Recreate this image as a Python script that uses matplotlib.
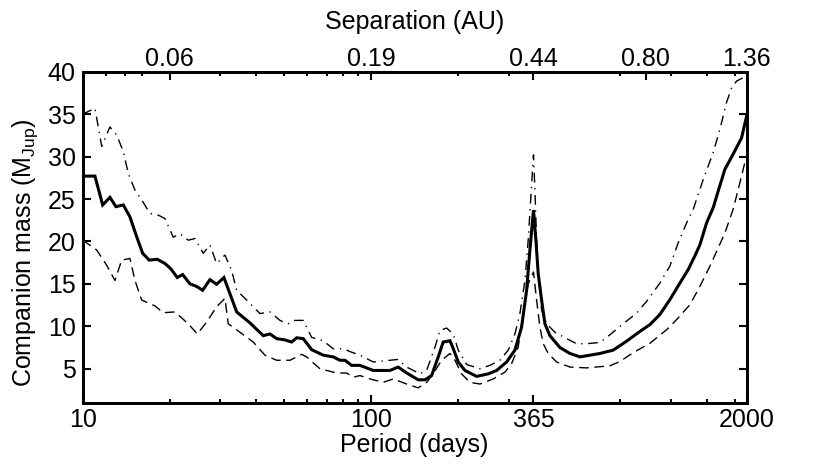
import matplotlib
matplotlib.use("Agg")
import matplotlib.pyplot as plt
from matplotlib.ticker import FixedLocator, NullFormatter, FixedFormatter

plt.rcParams['font.family'] = ['Liberation Sans', 'DejaVu Sans']
plt.rcParams['mathtext.fontset'] = 'custom'
plt.rcParams['mathtext.rm'] = 'Liberation Sans'
plt.rcParams['mathtext.it'] = 'Liberation Sans:italic'

# ---- data ----
solid_period = [10.0, 11.03, 11.73, 12.43, 13.04, 13.83, 14.58, 15.39, 16.14, 17.01, 18.14,
                19.28, 20.18, 21.27, 22.21, 23.54, 24.83, 26.05, 27.61, 29.12, 30.87, 34.17,
                38.0, 42.25, 44.57, 47.01, 50.23, 52.99, 55.14, 58.12, 62.15, 68.19, 73.83,
                77.88, 81.07, 85.51, 91.4, 101.6, 116.1, 124.0, 132.7, 145.5, 153.5, 161.9,
                170.7, 177.6, 187.4, 192.3, 200.2, 211.2, 231.9, 254.3, 272.0, 294.6, 314.7,
                331.9, 345.5, 354.7, 365.0, 372.1, 379.0, 389.4, 399.8, 416.1, 450.7, 488.2,
                528.8, 620.1, 689.8, 767.4, 853.2, 924.2, 1001, 1084, 1174, 1255, 1323, 1377,
                1453, 1532, 1594, 1681, 1796, 1920, 2000]
solid_mass = [27.7, 27.7, 24.3, 25.2, 24.1, 24.3, 22.9, 20.55, 18.6, 17.8, 17.9,
              17.4, 16.8, 15.75, 16.1, 15.0, 14.7, 14.25, 15.5, 14.95, 15.75, 11.7,
              10.4, 8.9, 9.1, 8.55, 8.4, 8.15, 8.65, 8.55, 7.25, 6.6, 6.4,
              6.0, 6.0, 5.4, 5.4, 4.8, 4.8, 5.2, 4.5, 3.7, 3.7, 4.2,
              6.4, 8.15, 8.3, 7.4, 5.8, 4.8, 4.1, 4.4, 4.8, 5.8, 7.2,
              9.9, 14.25, 19.0, 23.7, 20.15, 16.2, 13.1, 10.3, 8.9, 7.5, 6.8,
              6.4, 6.8, 7.2, 8.25, 9.4, 10.2, 11.4, 13.15, 15.1, 16.7, 18.3, 19.6,
              22.2, 24.0, 25.95, 28.5, 30.3, 32.2, 34.8]

upper_period = [10.0, 11.03, 11.64, 12.43, 13.11, 13.83, 14.39, 15.18, 16.01, 17.11, 18.28,
                19.28, 20.60, 21.74, 23.22, 24.50, 26.17, 27.61, 29.12, 31.12, 32.82, 34.17,
                37.01, 41.15, 44.57, 48.26, 51.57, 54.40, 58.12, 62.15, 68.19, 73.83, 79.98,
                85.51, 91.4, 101.6, 116.1, 124.0, 132.7, 147.5, 155.6, 166.3, 173.0, 182.5,
                192.3, 200.2, 214.1, 238.1, 257.8, 279.3, 298.4, 314.7, 327.5, 340.9, 349.9,
                357.5, 365.0, 369.2, 374.2, 381.1, 389.4, 405.3, 433.1, 475.5, 514.9, 557.7,
                620.1, 671.6, 727.6, 831.0, 900.3, 1001, 1084, 1158, 1239, 1306, 1414, 1532,
                1615, 1704, 1774, 1846, 1946, 2000]
upper_mass = [35.0, 35.7, 31.2, 33.5, 32.55, 30.6, 28.0, 26.05, 24.9, 23.3, 23.1,
              22.7, 20.5, 20.9, 20.15, 20.35, 18.6, 19.6, 17.4, 18.4, 16.6, 14.25,
              13.1, 11.5, 11.7, 10.7, 10.3, 10.7, 10.7, 8.7, 8.3, 7.35, 7.35,
              6.95, 6.6, 5.8, 6.0, 6.1, 5.2, 4.4, 4.8, 7.55, 9.5, 9.8,
              9.1, 7.2, 5.5, 5.0, 5.4, 6.0, 7.2, 9.1, 11.5, 15.4, 20.15,
              25.3, 30.2, 26.05, 20.15, 15.4, 11.9, 10.3, 9.3, 8.55, 7.95, 7.95,
              8.1, 9.0, 10.0, 11.55, 12.95, 15.1, 17.1, 19.85, 22.2, 23.8, 27.3, 30.5,
              33.2, 36.4, 38.1, 38.9, 39.3, 39.5]

lower_period = [10.0, 11.18, 12.11, 12.94, 13.65, 14.58, 15.18, 16.01, 17.81, 19.03, 20.88,
                23.22, 24.95, 26.90, 29.12, 31.12, 31.95, 35.08, 39.01, 42.82, 47.01, 52.28,
                57.40, 59.73, 66.41, 75.86, 82.17, 86.61, 91.4, 99.0, 110.0, 119.2, 132.7,
                145.5, 155.6, 163.9, 175.4, 187.4, 195.0, 205.7, 219.8, 238.1, 264.6, 290.6,
                306.5, 323.1, 336.3, 349.9, 365.0, 374.2, 384.2, 394.5, 410.6, 438.9, 488.2,
                557.7, 671.6, 727.6, 808.8, 924.2, 1056, 1144, 1272, 1377, 1492, 1594, 1681,
                1796, 1894, 1971, 2000]
lower_mass = [20.15, 19.0, 17.2, 15.4, 17.8, 18.0, 15.4, 13.1, 12.4, 11.6, 11.7,
              10.3, 9.1, 10.5, 12.3, 13.3, 10.3, 9.3, 8.15, 6.6, 6.0, 6.0,
              6.7, 6.4, 5.0, 4.5, 4.5, 4.0, 4.2, 3.8, 3.4, 3.8, 3.2,
              2.75, 3.4, 4.4, 6.0, 6.8, 6.0, 4.4, 3.4, 3.2, 3.8, 4.6,
              5.6, 7.55, 11.5, 15.0, 16.4, 13.1, 9.9, 7.95, 6.8, 5.8, 5.2,
              5.1, 5.35, 5.85, 6.9, 8.0, 9.6, 10.8, 12.55, 14.7, 17.1, 19.25, 21.0,
              23.8, 26.9, 29.3, 30.0]

period_ticks = [10, 100, 365, 2000]
period_labels = ['10', '100', '365', '2000']
period_minor = [20, 30, 40, 50, 60, 70, 80, 90, 200, 300, 730, 1095, 1460, 1825]
sep_tick_periods = [20, 100, 365, 895, 2000]
sep_labels = ['0.06', '0.19', '0.44', '0.80', '1.36']
sep_minor_periods = [12, 14, 16, 30, 40, 50, 60, 70, 80, 90, 200, 300, 730, 1095, 1460, 1825]
mass_ticks = [5, 10, 15, 20, 25, 30, 35, 40]

FS = 18

# ---- figure ----
fig = plt.figure(figsize=(8.3, 4.75), dpi=100)
ax = fig.add_axes([0.0996, 0.1522, 0.8, 0.6968])

ax.plot(upper_period, upper_mass, color='black', lw=1.0, linestyle=(0, (7, 4, 1, 4)))
ax.plot(lower_period, lower_mass, color='black', lw=1.0, linestyle=(0, (7, 4)))
ax.plot(solid_period, solid_mass, color='black', lw=2.2, solid_joinstyle='miter')

ax.set_xscale('log')
ax.set_xlim(10, 2000)
ax.set_ylim(1, 40)

ax.xaxis.set_major_locator(FixedLocator(period_ticks))
ax.xaxis.set_major_formatter(FixedFormatter(period_labels))
ax.xaxis.set_minor_locator(FixedLocator(period_minor))
ax.xaxis.set_minor_formatter(NullFormatter())
ax.set_yticks(mass_ticks)
ax.set_yticklabels([str(v) for v in mass_ticks])

ax.tick_params(axis='both', which='major', direction='in', length=6, width=1.5,
               labelsize=FS, top=False, right=True)
ax.tick_params(axis='x', which='major', pad=4)
ax.tick_params(axis='y', which='major', pad=5)
ax.tick_params(axis='x', which='minor', direction='in', length=3, width=1.5, top=False)
for s in ax.spines.values():
    s.set_linewidth(2)

ax.set_xlabel('Period (days)', fontsize=FS, labelpad=0.5)
ax.set_ylabel('Companion mass (M$_{\\rm Jup}$)', fontsize=FS)
ax.yaxis.set_label_coords(-0.064, 0.452)

ax2 = ax.twiny()
ax2.set_xscale('log')
ax2.set_xlim(10, 2000)
ax2.xaxis.set_major_locator(FixedLocator(sep_tick_periods))
ax2.xaxis.set_major_formatter(FixedFormatter(sep_labels))
ax2.xaxis.set_minor_locator(FixedLocator(sep_minor_periods))
ax2.xaxis.set_minor_formatter(NullFormatter())
ax2.tick_params(axis='x', which='major', direction='in', length=6, width=1.5,
                labelsize=FS, pad=0.5)
ax2.tick_params(axis='x', which='minor', direction='in', length=3, width=1.5)
ax2.set_xlabel('Separation (AU)', fontsize=FS, labelpad=13)
for s in ax2.spines.values():
    s.set_linewidth(2)

fig.savefig('out.png', dpi=100)
